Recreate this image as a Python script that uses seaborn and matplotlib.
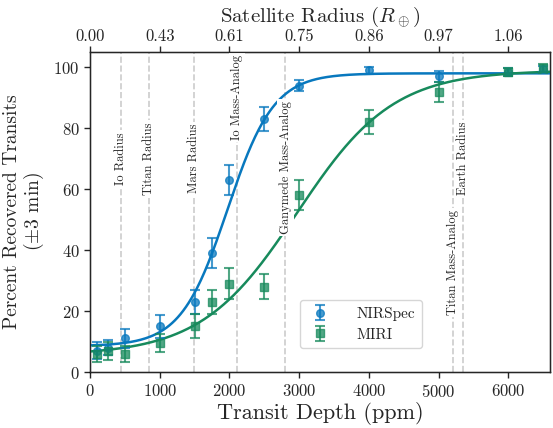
import numpy as np
import matplotlib
matplotlib.use('Agg')
import matplotlib.pyplot as plt
import seaborn as sns


# transit depths (ppm) sampled in the injection-recovery test
depths = [100, 250, 500, 1000, 1500, 1750, 2000, 2500, 3000, 4000, 5000, 6000, 6500]

nirspec_pct = [7, 8, 11, 15, 23, 39, 63, 83, 94, 99, 97, 98.5, 99.5]
nirspec_err = [2.7, 2.5, 3.0, 3.7, 4.0, 5.0, 5.0, 4.0, 1.7, 1.2, 1.9, 1.4, 1.0]

miri_pct = [6, 7, 6, 9.5, 15, 23, 29, 28, 58, 82, 92, 98.5, 99.7]
miri_err = [2.7, 2.9, 2.7, 3.0, 4.0, 4.0, 5.0, 4.0, 5.0, 4.0, 3.3, 1.4, 1.5]

# logistic fit parameters (lower, upper, slope, midpoint)
nirspec_fit = (8.5, 98.0, 0.0030, 1970)
miri_fit = (5.5, 99.0, 0.00145, 2970)

# reference bodies (transit depth in ppm)
ref_names = ['Io Radius', 'Titan Radius', 'Mars Radius', 'Io Mass-Analog',
             'Ganymede Mass-Analog', 'Titan Mass-Analog', 'Earth Radius']
ref_depths = [440, 847, 1492, 2105, 2800, 5213, 5347]
ref_label_y = [70, 70, 70, 90, 67, 36, 70]

top_ticks = [0, 1000, 2000, 3000, 4000, 5000, 6000]
top_labels = ['0.00', '0.43', '0.61', '0.75', '0.86', '0.97', '1.06']

BLUE = '#0878be'
GREEN = '#178a5c'


def logistic(x, lo, hi, k, x0):
    return lo + (hi - lo) / (1 + np.exp(-k * (x - x0)))


sns.set_style('ticks')
plt.rcParams['font.family'] = ['cmr10', 'DejaVu Serif']
plt.rcParams['mathtext.fontset'] = 'cm'
plt.rcParams['axes.formatter.use_mathtext'] = True
plt.rcParams['axes.unicode_minus'] = False

fig, ax = plt.subplots(figsize=(5.53, 4.28), dpi=100)
fig.subplots_adjust(left=0.163, right=0.9946, bottom=0.1308, top=0.8785)

grid = np.linspace(0, 6600, 500)
sns.lineplot(x=grid, y=logistic(grid, *nirspec_fit), ax=ax, color=BLUE, lw=1.8, zorder=3)
sns.lineplot(x=grid, y=logistic(grid, *miri_fit), ax=ax, color=GREEN, lw=1.8, zorder=3)

ax.errorbar(depths, nirspec_pct, yerr=nirspec_err, fmt='o', color=BLUE, ms=5.5,
            alpha=0.75, capsize=3.5, elinewidth=1.5, capthick=1.5, label='NIRSpec', zorder=4)
ax.errorbar(depths, miri_pct, yerr=miri_err, fmt='s', color=GREEN, ms=5.5,
            alpha=0.75, capsize=3.5, elinewidth=1.5, capthick=1.5, label='MIRI', zorder=4)

for name, d, ty in zip(ref_names, ref_depths, ref_label_y):
    ax.axvline(d, color='#cccccc', ls='--', lw=1.2, zorder=1)
    ax.text(d, ty, name, rotation=90, ha='center', va='center', fontsize=9, zorder=5,
            bbox=dict(facecolor='white', edgecolor='none', pad=1.5))

ax.set_xlim(0, 6600)
ax.set_ylim(0, 105)
ax.set_xticks([0, 1000, 2000, 3000, 4000, 5000, 6000])
ax.set_yticks([0, 20, 40, 60, 80, 100])
ax.tick_params(labelsize=12, length=4, width=1, direction='out')
ax.tick_params(axis='x', pad=4)
ax.set_xlabel('Transit Depth (ppm)', fontsize=16, labelpad=1)
ax.set_ylabel('Percent Recovered Transits\n' + r'($\pm$3 min)', fontsize=14, linespacing=1.05)
ax.yaxis.set_label_coords(-0.095, 0.5)
for s in ax.spines.values():
    s.set_color('black')
    s.set_linewidth(1.0)

ax2 = ax.twiny()
ax2.set_xlim(ax.get_xlim())
ax2.set_xticks(top_ticks)
ax2.set_xticklabels(top_labels)
ax2.tick_params(labelsize=12, length=4, width=1, direction='out', pad=2)
ax2.set_xlabel(r'Satellite Radius ($R_\oplus$)', fontsize=15, labelpad=5)

ax.legend(loc='lower right', bbox_to_anchor=(0.739, 0.05), fontsize=11,
          handletextpad=1.5, handlelength=1.8, borderpad=0.45, labelspacing=0.45,
          framealpha=0.8)

fig.savefig('out.png', dpi=100)
